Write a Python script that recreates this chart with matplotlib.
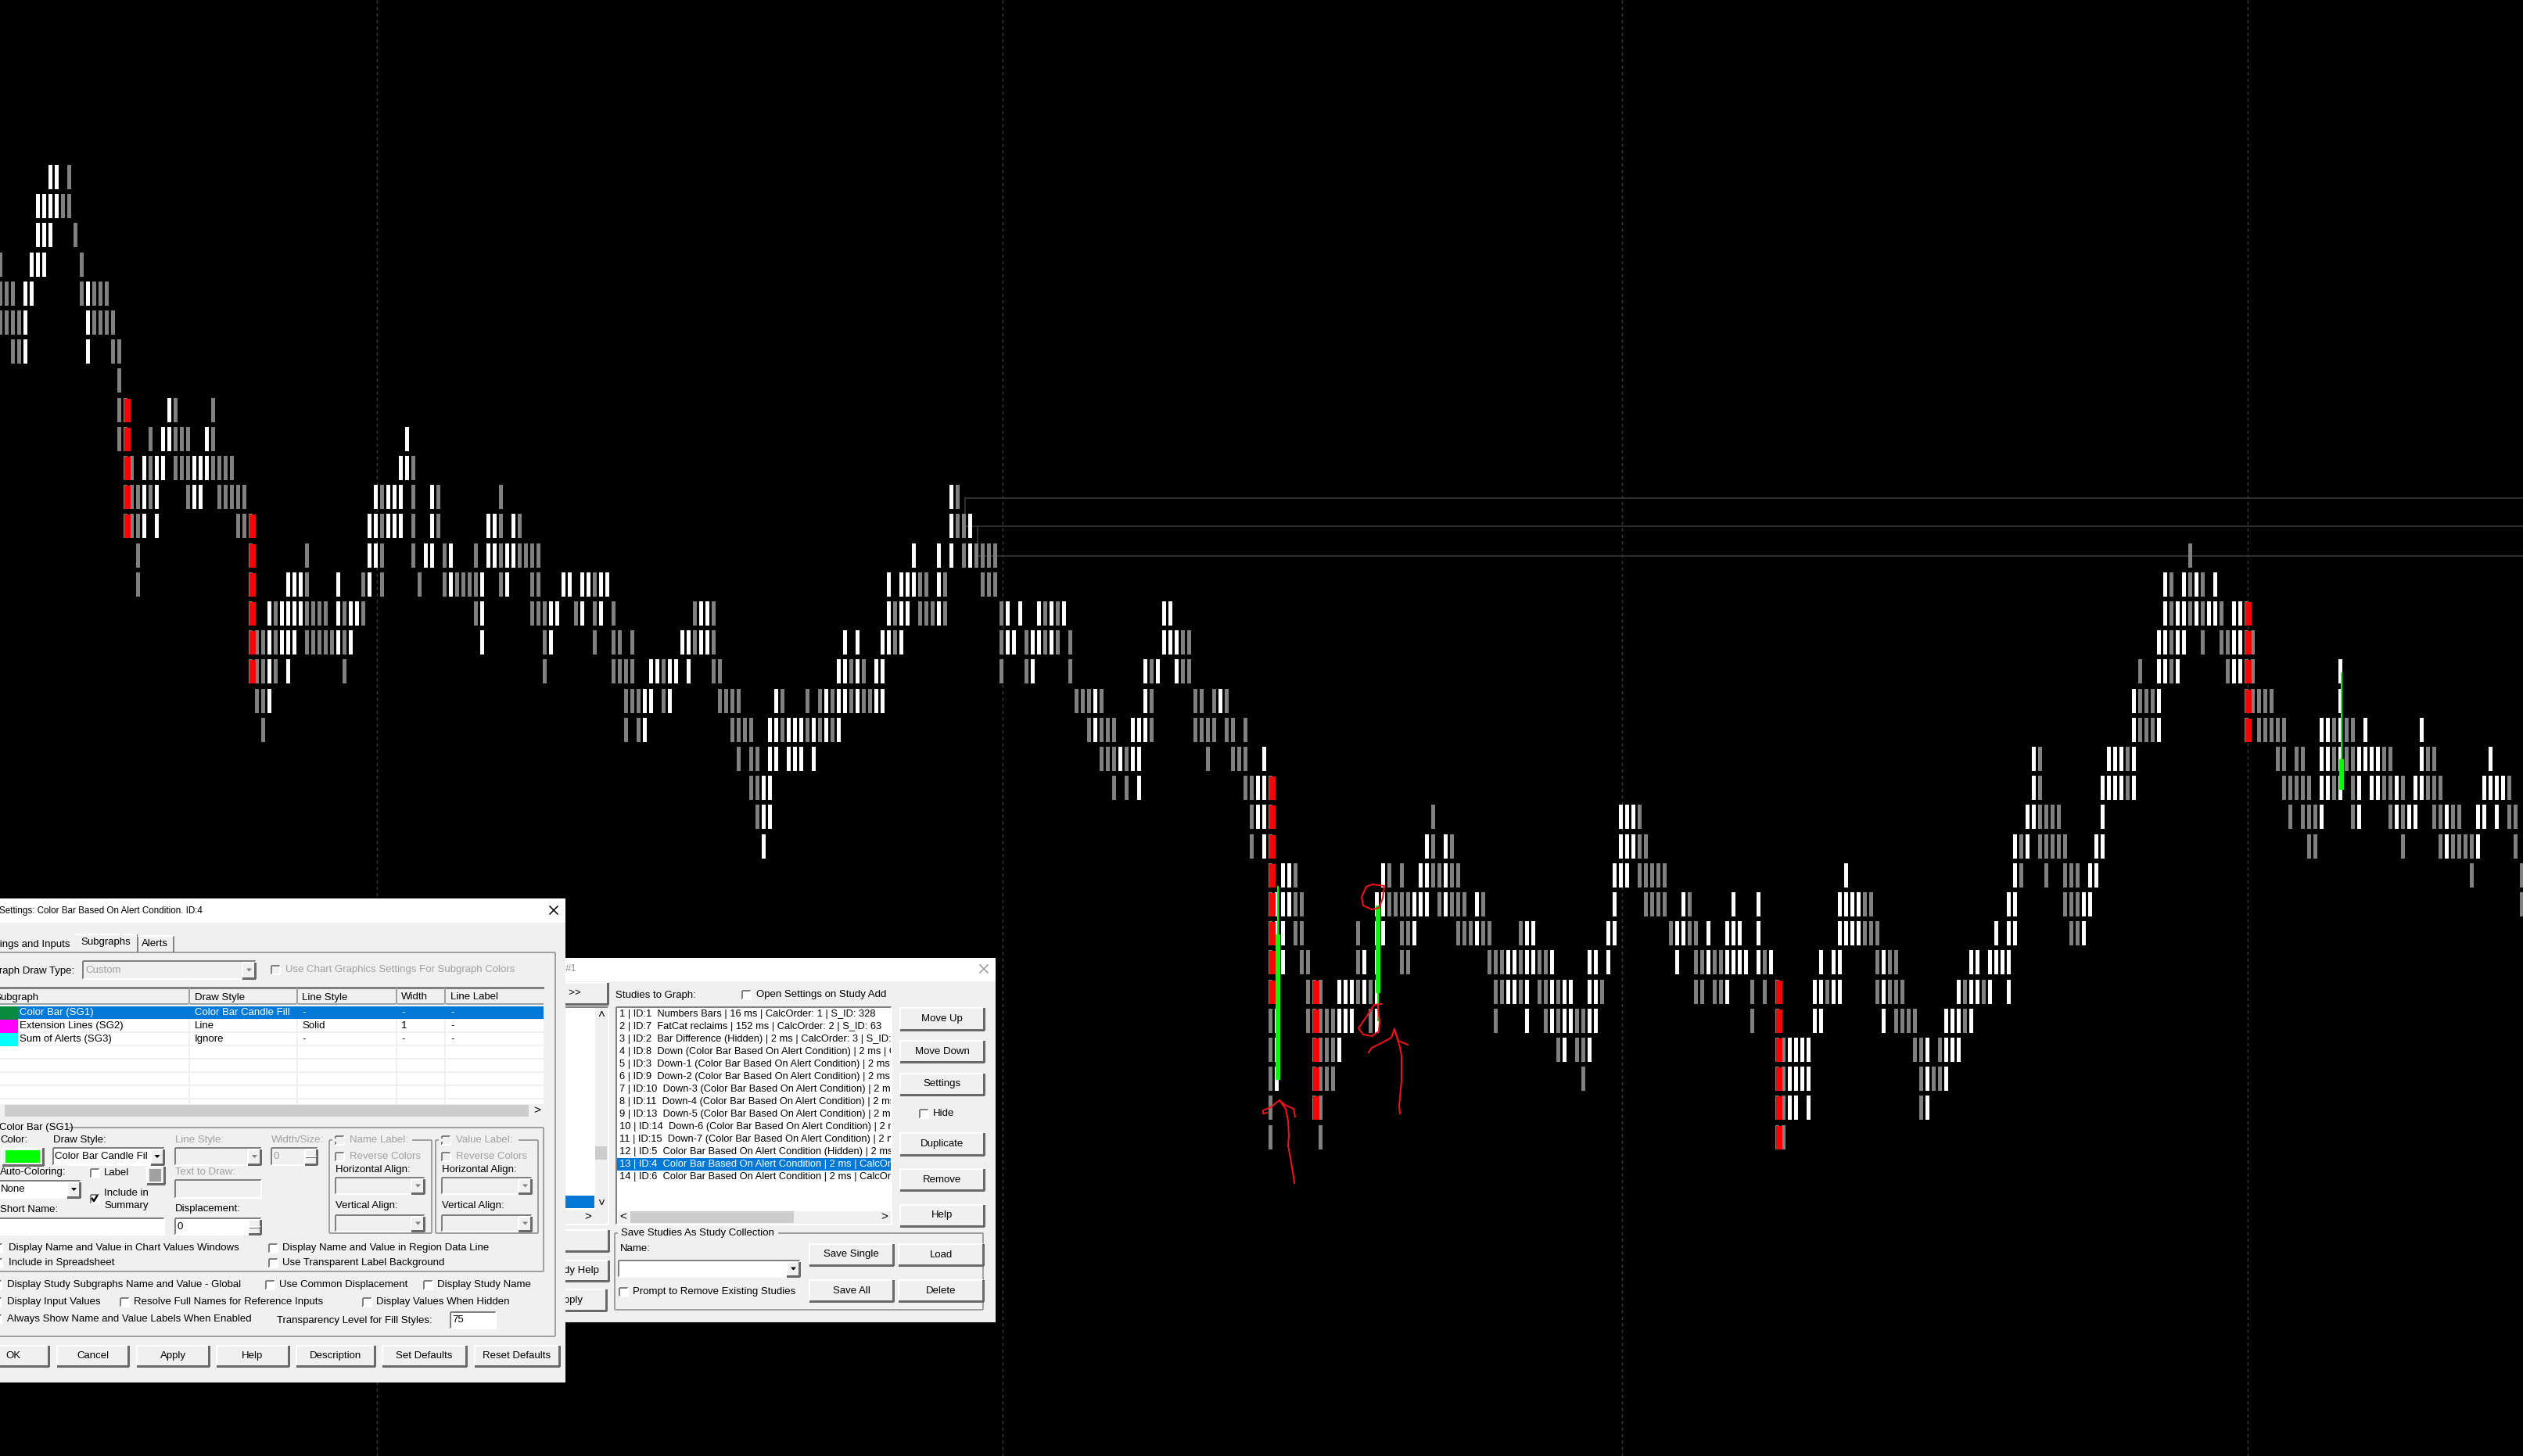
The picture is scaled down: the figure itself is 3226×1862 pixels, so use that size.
"""Recreates the numbers bars chart screenshot with its two study dialogs."""

import matplotlib
matplotlib.use("Agg")
import matplotlib.pyplot as plt
from matplotlib.patches import Rectangle

plt.rcParams["font.family"] = ["Liberation Sans", "DejaVu Sans"]

# Cells of the chart per price row (top to bottom), as bar column numbers
WHITE_CELLS = [
    [8, 9],
    [6, 7, 8, 9],
    [6, 7, 8],
    [5, 6, 7],
    [4, 5, 14],
    [4, 14],
    [4, 14],
    [],
    [27],
    [26, 27, 33, 65],
    [23, 25, 26, 31, 32, 33, 64, 65],
    [23, 25, 31, 32, 60, 62, 63, 64, 69, 152],
    [23, 25, 59, 60, 62, 63, 64, 69, 78, 79, 82, 152, 155],
    [59, 60, 68, 69, 72, 78, 79, 81, 82, 146, 150, 152, 155],
    [46, 47, 48, 54, 59, 72, 77, 81, 90, 91, 93, 94, 96, 97, 142, 144, 145, 146, 150, 346, 349, 351, 354],
    [43, 45, 46, 47, 48, 54, 56, 57, 77, 88, 89, 93, 96, 112, 113, 142, 144, 145, 150, 161, 163, 166, 168, 170,
     186, 187, 346, 348, 349, 351, 353, 354, 357, 358],
    [43, 45, 46, 47, 54, 56, 77, 88, 109, 110, 112, 113, 135, 137, 141, 142, 144, 161, 162, 165, 166, 168,
     186, 187, 188, 345, 346, 348, 349, 357, 358],
    [43, 46, 104, 105, 107, 108, 110, 134, 135, 137, 140, 141, 165, 183, 185, 188, 345, 346, 348, 357, 358, 374],
    [43, 103, 104, 107, 124, 132, 134, 135, 137, 140, 141, 175, 183, 195, 341, 345, 374],
    [103, 123, 124, 126, 127, 128, 130, 132, 134, 175, 181, 182, 183, 341, 345, 371, 372, 374, 378, 387],
    [123, 124, 126, 127, 128, 130, 179, 181, 182, 202, 325, 337, 338, 339, 341, 371, 372, 374, 377, 378, 379, 380,
     387, 398],
    [122, 123, 182, 201, 202, 325, 336, 337, 338, 339, 341, 371, 372, 374, 377, 379, 380, 383, 386, 387,
     397, 398, 399, 400],
    [122, 123, 201, 202, 259, 260, 261, 324, 325, 336, 371, 377, 383, 385, 386, 391, 396, 397, 399],
    [122, 202, 228, 231, 259, 260, 261, 322, 324, 335, 336, 391, 396],
    [205, 206, 221, 227, 228, 231, 258, 259, 260, 295, 322, 334, 335],
    [204, 205, 206, 220, 221, 226, 227, 228, 231, 236, 258, 269, 277, 281, 294, 295, 296, 297, 321, 322, 333, 334],
    [204, 205, 220, 221, 226, 236, 244, 245, 257, 258, 268, 269, 273, 276, 277, 278, 281, 294, 295, 296, 297,
     319, 321, 322, 333],
    [205, 218, 220, 241, 242, 244, 245, 248, 254, 255, 257, 268, 273, 276, 277, 278, 279, 281, 283, 291, 293, 294,
     301, 315, 316, 318, 319, 320, 321],
    [214, 215, 216, 218, 220, 241, 242, 244, 248, 250, 251, 254, 255, 276, 290, 291, 293, 294, 301, 313, 315, 316,
     318, 321],
    [204, 214, 215, 216, 220, 244, 248, 250, 251, 254, 255, 290, 291, 301, 311, 312, 313, 315],
    [204, 214, 250, 254, 286, 287, 288, 289, 308, 311, 312, 313],
    [204, 286, 287, 288, 289, 308, 311],
    [286, 287, 289, 308],
    [],
]
GREY_CELLS = [
    [11],
    [10, 11],
    [12],
    [0, 13],
    [0, 1, 2, 13, 15, 16, 17],
    [0, 1, 2, 3, 15, 16, 17, 18],
    [2, 3, 18, 19],
    [19],
    [19, 20, 28, 34],
    [19, 20, 24, 28, 29, 30, 34],
    [20, 21, 24, 28, 29, 30, 34, 35, 36, 37, 66],
    [20, 21, 22, 24, 30, 35, 36, 37, 38, 39, 61, 66, 70, 80, 153],
    [20, 21, 22, 38, 39, 40, 61, 66, 70, 80, 83, 153, 154],
    [22, 40, 49, 61, 66, 71, 76, 80, 83, 84, 85, 86, 154, 156, 157, 158, 159, 350],
    [22, 40, 49, 58, 61, 67, 71, 73, 74, 75, 76, 80, 85, 86, 95, 147, 148, 151, 157, 158, 159, 347, 350, 352],
    [40, 44, 49, 50, 51, 52, 55, 58, 76, 85, 86, 87, 92, 95, 98, 111, 114, 143, 147, 148, 149, 151, 160, 167, 169,
     347, 350, 352, 355, 359],
    [40, 41, 42, 44, 49, 50, 51, 52, 53, 55, 87, 95, 98, 99, 101, 111, 114, 143, 160, 164, 167, 169, 171, 189, 190,
     347, 352, 355, 356, 359, 360],
    [40, 41, 42, 44, 55, 87, 98, 99, 100, 101, 106, 114, 115, 136, 138, 160, 164, 171, 184, 189, 190, 342, 347, 356,
     359, 360],
    [41, 42, 100, 101, 102, 106, 115, 116, 117, 118, 125, 129, 131, 133, 136, 138, 139, 172, 173, 174, 176, 184,
     191, 192, 194, 196, 342, 343, 344, 359, 360, 361, 362, 363],
    [42, 100, 102, 117, 118, 119, 120, 125, 129, 131, 133, 174, 176, 177, 178, 184, 191, 192, 193, 194, 196, 197, 199,
     342, 343, 344, 359, 361, 362, 363, 364, 365, 373, 375, 376],
    [118, 120, 121, 176, 177, 178, 180, 193, 197, 198, 199, 326, 340, 364, 365, 367, 368, 373, 375, 376, 381, 382,
     388, 389],
    [120, 121, 178, 180, 199, 200, 203, 326, 340, 365, 366, 367, 368, 369, 373, 376, 381, 382, 384, 388, 389, 390, 401],
    [121, 200, 203, 229, 262, 326, 327, 328, 329, 366, 368, 369, 370, 376, 382, 384, 389, 390, 392, 393, 401, 402],
    [200, 203, 229, 232, 262, 263, 323, 326, 327, 328, 329, 330, 369, 370, 384, 390, 392, 393, 394, 395, 402],
    [203, 207, 222, 224, 229, 230, 232, 233, 262, 263, 264, 265, 266, 323, 327, 330, 331, 332, 395, 403],
    [203, 207, 208, 222, 223, 224, 225, 230, 232, 233, 234, 237, 263, 264, 265, 266, 270, 298, 299, 330, 331, 332, 403],
    [203, 207, 208, 217, 224, 225, 233, 234, 235, 237, 238, 243, 267, 270, 271, 298, 299, 300, 331, 332],
    [203, 208, 209, 217, 224, 225, 238, 239, 240, 243, 246, 247, 271, 272, 274, 275, 282, 300, 302, 303],
    [203, 209, 210, 211, 217, 219, 239, 240, 243, 246, 247, 249, 256, 271, 272, 274, 275, 280, 282, 284, 292, 300,
     302, 303, 304, 314, 317],
    [203, 209, 210, 211, 212, 213, 219, 239, 247, 249, 252, 253, 280, 284, 303, 304, 305, 306, 314],
    [203, 210, 211, 212, 213, 249, 252, 253, 284, 285, 306, 307, 310],
    [203, 210, 211, 212, 213, 253, 284, 285, 307, 309, 310],
    [203, 210, 211, 284, 285, 307],
    [203, 211, 284, 285],
]

# Runs of red cells: column, first row, last row
RED_COLS = [20, 40, 203, 210, 284, 359]
RED_FIRST_ROW = [8, 12, 21, 28, 28, 15]
RED_LAST_ROW = [12, 17, 28, 32, 33, 19]

# Green candles, in pixels of the screenshot
GREEN_X = [1634, 1762, 2994]
GREEN_WICK_TOP = [1133, 1158, 860]
GREEN_WICK_BOTTOM = [1381, 1306, 1010]
GREEN_BODY_TOP = [1195, 1158, 971]
GREEN_BODY_BOTTOM = [1381, 1270, 1010]

DASHED_X = [482, 1282, 2074, 2874]

# Thin level lines (x start, y) with their small connecting verticals
LEVEL_X = [1234, 1234, 1250]
LEVEL_Y = [637, 673, 711]

# Hand drawn red marks
ARROW1_X = [1655, 1654, 1650, 1647, 1648, 1647, 1644, 1636, 1632, 1625, 1615, 1615, 1620]
ARROW1_Y = [1513, 1505, 1481, 1465, 1453, 1434, 1418, 1407, 1410, 1416, 1420, 1424, 1423]
ARROW1_HEAD_X = [1636, 1643, 1654, 1656]
ARROW1_HEAD_Y = [1407, 1413, 1418, 1428]
CIRCLE1_X = [1755, 1747, 1741, 1743, 1754, 1763, 1768, 1770, 1763, 1755]
CIRCLE1_Y = [1131, 1134, 1147, 1158, 1163, 1161, 1149, 1133, 1132, 1131]
CIRCLE2_X = [1766, 1757, 1748, 1737, 1743, 1754, 1763, 1764, 1762]
CIRCLE2_Y = [1284, 1285, 1299, 1315, 1323, 1325, 1319, 1307, 1287]
ARROW2_X = [1790, 1789, 1792, 1792, 1790, 1783, 1779, 1768, 1754, 1750]
ARROW2_Y = [1424, 1414, 1382, 1351, 1339, 1316, 1327, 1333, 1340, 1346]
ARROW2_HEAD_X = [1783, 1788, 1800]
ARROW2_HEAD_Y = [1316, 1331, 1336]

STUDIES = [
    "1 | ID:1  Numbers Bars | 16 ms | CalcOrder: 1 | S_ID: 328",
    "2 | ID:7  FatCat reclaims | 152 ms | CalcOrder: 2 | S_ID: 63",
    "3 | ID:2  Bar Difference (Hidden) | 2 ms | CalcOrder: 3 | S_ID: 71",
    "4 | ID:8  Down (Color Bar Based On Alert Condition) | 2 ms | CalcOrder: 4",
    "5 | ID:3  Down-1 (Color Bar Based On Alert Condition) | 2 ms | CalcOrder: 5",
    "6 | ID:9  Down-2 (Color Bar Based On Alert Condition) | 2 ms | CalcOrder: 6",
    "7 | ID:10  Down-3 (Color Bar Based On Alert Condition) | 2 ms | CalcOrder: 7",
    "8 | ID:11  Down-4 (Color Bar Based On Alert Condition) | 2 ms | CalcOrder: 8",
    "9 | ID:13  Down-5 (Color Bar Based On Alert Condition) | 2 ms | CalcOrder: 9",
    "10 | ID:14  Down-6 (Color Bar Based On Alert Condition) | 2 ms | CalcOrder: 10",
    "11 | ID:15  Down-7 (Color Bar Based On Alert Condition) | 2 ms | CalcOrder: 11",
    "12 | ID:5  Color Bar Based On Alert Condition (Hidden) | 2 ms | CalcOrder: 12",
    "13 | ID:4  Color Bar Based On Alert Condition | 2 ms | CalcOrder: 13",
    "14 | ID:6  Color Bar Based On Alert Condition | 2 ms | CalcOrder: 14",
]
SUBGRAPH_COLORS = ["#0a8a3c", "#ff00ff", "#00ffff"]
SUBGRAPH_ROWS = [
    ["Color Bar (SG1)", "Color Bar Candle Fill", "-", "-", "-"],
    ["Extension Lines (SG2)", "Line", "Solid", "1", "-"],
    ["Sum of Alerts (SG3)", "Ignore", "-", "-", "-"],
]
TABLE_HEADERS = ["Subgraph", "Draw Style", "Line Style", "Width", "Line Label"]
TABLE_COLS = [-8, 249, 386, 513, 576]
TABLE_LINES = [242, 380, 507, 569]

ROW_TOP = 211
ROW_STEP = 37.2
ROW_H = 31
BAR_W = 5
FACE = "#f0f0f0"
BLUE = "#0078d7"
GREYED = "#a0a0a0"
FONT = 9.55

fig = plt.figure(figsize=(32.26, 18.62), dpi=100, facecolor="black")
ax = fig.add_axes([0, 0, 1, 1])
ax.set_xlim(0, 3226)
ax.set_ylim(1862, 0)
ax.set_facecolor("black")
ax.axis("off")

layer = 10


def col_x(col):
    return 8 * col - 2


def row_y(row):
    return ROW_TOP + ROW_STEP * row


def box(x0, y0, x1, y1, face=FACE, edge=None, lw=1.0, lift=0.0):
    ax.add_patch(Rectangle((x0, y0), x1 - x0, y1 - y0, facecolor=face, edgecolor=edge or "none",
                           linewidth=lw, antialiased=False, zorder=layer + lift))


def hv(x0, y0, x1, y1, color="#a0a0a0", lw=1.4):
    ax.plot([x0, x1], [y0, y1], color=color, lw=lw, zorder=layer + 0.1, solid_capstyle="butt", antialiased=False)


def label(x, y, s, color="black", ha="left", size=FONT, clip=None):
    t = ax.text(x, y, s, color=color, ha=ha, va="center", fontsize=size, zorder=layer + 0.3)
    if clip is not None:
        t.set_clip_path(Rectangle((clip[0], clip[1]), clip[2] - clip[0], clip[3] - clip[1], transform=ax.transData))
        t.set_clip_on(True)
    return t


def button(x0, y0, x1, y1, text=None, tx=None):
    box(x0, y0, x1, y1, "#f0f0f0")
    hv(x0, y0, x1, y0, "white")
    hv(x0, y0, x0, y1, "white")
    hv(x0, y1, x1, y1, "#696969", 2)
    hv(x1, y0, x1, y1, "#696969", 2)
    if text:
        label(tx if tx is not None else (x0 + x1) / 2, (y0 + y1) / 2, text, ha="center")


def sunken(x0, y0, x1, y1, face="white"):
    box(x0, y0, x1, y1, face)
    hv(x0, y0, x1, y0, "#808080")
    hv(x0, y0, x0, y1, "#808080")
    hv(x0, y1, x1, y1, "white")
    hv(x1, y0, x1, y1, "white")


def checkbox(x, y, checked=False, disabled=False):
    sunken(x, y - 5.5, x + 11, y + 5.5, FACE if disabled else "white")
    if checked:
        ax.plot([x + 2.5, x + 4.5, x + 8.5], [y, y + 3, y - 3.5], color="black", lw=1.8, zorder=layer + 0.2)


def arrow_down(cx, cy, color="black"):
    ax.fill([cx - 3.5, cx + 3.5, cx], [cy - 2, cy - 2, cy + 2], color=color, zorder=layer + 0.2, lw=0)


def combo(x0, y0, x1, y1, text=None, disabled=False, btn_w=17):
    sunken(x0, y0, x1, y1, FACE if disabled else "white")
    button(x1 - btn_w, y0 + 2, x1 - 1, y1 - 1)
    arrow_down(x1 - btn_w / 2, (y0 + y1) / 2, "#808080" if disabled else "black")
    if text:
        label(x0 + 3, (y0 + y1) / 2, text, color=GREYED if disabled else "black")


def spinner(x0, y0, x1, y1, text, disabled=False):
    sunken(x0, y0, x1, y1, FACE if disabled else "white")
    mid = (y0 + y1) / 2
    button(x1 - 16, y0 + 2, x1 - 1, mid)
    button(x1 - 16, mid, x1 - 1, y1 - 1)
    label(x0 + 3, mid, text, color=GREYED if disabled else "black")


def close_x(cx, cy, color="black"):
    for sign in (-1, 1):
        ax.plot([cx - 5, cx + 5], [cy - 5 * sign, cy + 5 * sign], color=color, lw=1.1, zorder=layer + 0.2)


def group(x0, y0, x1, y1, gap0=None, gap1=None):
    hv(x0, y1, x1, y1)
    hv(x0, y0, x0, y1)
    hv(x1, y0, x1, y1)
    hv(x0, y0, x1, y0)
    if gap0 is not None:
        box(gap0, y0 - 2, gap1, y0 + 2, lift=0.2)


# Chart background
for x in DASHED_X:
    ax.plot([x, x], [0, 1862], color="#3a3a3a", lw=1.0, ls=(0, (3, 3)), zorder=1)
for x, y in zip(LEVEL_X, LEVEL_Y):
    ax.plot([x, 3226], [y, y], color="#3c3c3c", lw=1.1, zorder=1)
ax.plot([LEVEL_X[0], LEVEL_X[0]], [LEVEL_Y[0], LEVEL_Y[1]], color="#3c3c3c", lw=1.1, zorder=1)
ax.plot([LEVEL_X[2], LEVEL_X[2]], [LEVEL_Y[1], LEVEL_Y[2]], color="#3c3c3c", lw=1.1, zorder=1)

# Number bars
for row in range(len(WHITE_CELLS)):
    ax.bar([col_x(c) for c in GREY_CELLS[row]], ROW_H, width=BAR_W, bottom=row_y(row), align="edge",
           color="#808080", antialiased=False, zorder=2)
    ax.bar([col_x(c) for c in WHITE_CELLS[row]], ROW_H, width=BAR_W, bottom=row_y(row), align="edge",
           color="white", antialiased=False, zorder=2)
for col, first, last in zip(RED_COLS, RED_FIRST_ROW, RED_LAST_ROW):
    rows = range(first, last + 1)
    ax.bar([col_x(col) + 0.5] * len(rows), ROW_H - 1, width=8.5, bottom=[row_y(r) + 1 for r in rows], align="edge",
           color="#ff0000", antialiased=False, zorder=3)

# Green candles
for i in range(len(GREEN_X)):
    ax.bar(GREEN_X[i], GREEN_WICK_BOTTOM[i] - GREEN_WICK_TOP[i], width=2, bottom=GREEN_WICK_TOP[i],
           color="#00ff00", antialiased=False, zorder=4)
    ax.bar(GREEN_X[i], GREEN_BODY_BOTTOM[i] - GREEN_BODY_TOP[i], width=6.5, bottom=GREEN_BODY_TOP[i],
           color="#00ff00", antialiased=False, zorder=4)

# Hand drawn marks
for xs, ys in [(ARROW1_X, ARROW1_Y), (ARROW1_HEAD_X, ARROW1_HEAD_Y), (CIRCLE1_X, CIRCLE1_Y), (CIRCLE2_X, CIRCLE2_Y),
               (ARROW2_X, ARROW2_Y), (ARROW2_HEAD_X, ARROW2_HEAD_Y)]:
    ax.plot(xs, ys, color="#e8141c", lw=1.5, zorder=5)

# Studies dialog (behind the settings dialog)
layer = 10
box(723, 1225, 1273, 1691)
box(723, 1225, 1273, 1255, "white")
label(723, 1239, "#1", color="#999999")
close_x(1258, 1239, "#999999")
button(700, 1257, 777, 1284)
label(743, 1270, "Add >>", ha="right")
sunken(700, 1288, 778, 1566, FACE)
box(700, 1288, 761, 1548, "white")
box(700, 1529, 760, 1545, BLUE)
box(761, 1466, 776, 1483, "#cdcdcd")
label(768.5, 1298, "\u02c4", ha="center", size=11)
label(768.5, 1539, "\u02c5", ha="center", size=11)
label(752, 1556, "\u02c3", ha="center", size=11)
button(700, 1573, 778, 1600)
button(700, 1612, 778, 1638)
label(766, 1625, "Study Help", ha="right")
button(700, 1649, 775, 1676)
label(746, 1663, "Apply", ha="right")

label(787, 1273, "Studies to Graph:")
checkbox(949, 1272)
label(967, 1272, "Open Settings on Study Add")
sunken(788, 1288, 1140, 1566)
box(789, 1481, 1139, 1497, BLUE)
for i, name in enumerate(STUDIES):
    label(791.5, 1297.3 + 16 * i, name, color="white" if i == 12 else "black", size=9.3, clip=(789, 1288, 1139, 1549))
box(790, 1549, 1139, 1565)
box(806, 1549, 1015, 1564, "#cdcdcd")
label(797, 1556, "\u02c2", ha="center", size=11)
label(1131, 1556, "\u02c3", ha="center", size=11)

button(1151, 1289, 1258, 1317, "Move Up")
button(1151, 1331, 1258, 1358, "Move Down")
button(1151, 1373, 1258, 1400, "Settings")
checkbox(1176, 1424)
label(1193, 1424, "Hide")
button(1151, 1449, 1258, 1477, "Duplicate")
button(1151, 1495, 1258, 1522, "Remove")
button(1151, 1541, 1258, 1568, "Help")

group(786, 1577, 1257, 1675, 790, 995)
label(794, 1577, "Save Studies As Study Collection")
label(793, 1597, "Name:")
combo(791, 1612, 1023, 1633)
button(1035, 1591, 1142, 1618, "Save Single")
button(1149, 1591, 1257, 1618, "Load")
button(1035, 1637, 1142, 1664, "Save All")
button(1149, 1637, 1257, 1664, "Delete")
checkbox(792, 1652)
label(809, 1652, "Prompt to Remove Existing Studies")

# Settings dialog
layer = 20
box(-2, 1149, 723, 1768)
box(-2, 1149, 723, 1180, "white")
label(-1, 1165, "Settings: Color Bar Based On Alert Condition. ID:4", size=8.4)
close_x(708, 1164)
group(-5, 1218, 710, 1709)
box(-2, 1197, 96, 1218)
box(96, 1195, 176, 1220)
hv(96, 1195, 176, 1195, "white")
hv(176, 1195, 176, 1218, "#808080")
hv(222, 1197, 222, 1218, "#808080")
hv(176, 1197, 222, 1197, "white")
label(90, 1208, "Settings and Inputs", ha="right")
label(103, 1205, "Subgraphs")
label(181, 1207, "Alerts")

label(95, 1242, "Subgraph Draw Type:", ha="right")
combo(106, 1229, 327, 1252, "Custom", disabled=True)
checkbox(347, 1240, disabled=True)
label(365, 1240, "Use Chart Graphics Settings For Subgraph Colors", color=GREYED)

# Subgraph table
box(-2, 1263, 695, 1412, "white")
box(-2, 1263, 695, 1284, FACE)
hv(-2, 1263, 695, 1263, "#808080", 2)
hv(-2, 1284, 695, 1284, "#a0a0a0")
for x in TABLE_LINES:
    hv(x, 1263, x, 1284, "#a0a0a0")
    hv(x, 1284, x, 1412, "#f0f0f0")
for i in range(1, 8):
    hv(-2, 1286 + 17 * i, 695, 1286 + 17 * i, "#f0f0f0")
for x, head in zip(TABLE_COLS, TABLE_HEADERS):
    label(x, 1275.5, head)
box(23, 1287, 695, 1303, BLUE, lift=0.2)
for i, values in enumerate(SUBGRAPH_ROWS):
    y = 1295 + 17 * i
    box(-2, y - 8, 23, y + 8.5, SUBGRAPH_COLORS[i], lift=0.2)
    label(25, y, values[0], color="white" if i == 0 else "black")
    for x, value in zip(TABLE_COLS[1:], values[1:]):
        label(x, y, value, color="white" if i == 0 else "black")
box(6, 1413, 676, 1428, "#cdcdcd")
label(687, 1420, "\u02c3", ha="center", size=11)

# Color bar group
group(-5, 1442, 695, 1626, 0, 88)
label(-1, 1442, "Color Bar (SG1)")
label(0, 1458, "Color:")
label(67.5, 1458, "Draw Style:")
button(3, 1468, 54.5, 1490)
box(7, 1471, 51, 1487, "#00ff00", lift=0.2)
combo(67.5, 1468, 209.5, 1490, "Color Bar Candle Fil")
label(223.5, 1458, "Line Style:", color=GREYED)
combo(223.5, 1468, 334, 1490, disabled=True)
label(347, 1458, "Width/Size:", color=GREYED)
spinner(347, 1468, 406, 1490, "0", disabled=True)

for gx0, gx1, cbx, tx, cx1, name in [(421, 552, 429, 447, 543, "Name Label:"), (557, 688, 565, 583, 680, "Value Label:")]:
    group(gx0, 1458, gx1, 1577, gx0 + 4, tx + 80)
    checkbox(cbx, 1458, disabled=True)
    label(tx, 1458, name, color=GREYED)
    checkbox(cbx, 1479, disabled=True)
    label(tx, 1479, "Reverse Colors", color=GREYED)
    label(cbx, 1496, "Horizontal Align:")
    combo(cbx, 1506, cx1, 1527, disabled=True)
    label(cbx, 1542, "Vertical Align:")
    combo(cbx, 1554, cx1, 1575, disabled=True)

label(0, 1499, "Auto-Coloring:")
combo(-2, 1510, 103, 1532, "None")
checkbox(115.5, 1500)
label(133, 1500, "Label")
button(187.5, 1492, 210, 1514)
box(191, 1495, 206, 1511, "#a0a0a0", lift=0.2)
label(223.5, 1499, "Text to Draw:", color=GREYED)
sunken(223.5, 1509, 334, 1532, FACE)
checkbox(115.5, 1533, checked=True)
label(133, 1526, "Include in")
label(133, 1542, "Summary")
label(0, 1547, "Short Name:")
sunken(-2, 1558, 209.5, 1579)
label(223.5, 1546, "Displacement:")
spinner(223.5, 1558, 334, 1579, "0")

checkbox(-8, 1596)
label(11, 1596, "Display Name and Value in Chart Values Windows")
checkbox(-8, 1615)
label(11, 1615, "Include in Spreadsheet")
checkbox(344, 1596)
label(361, 1596, "Display Name and Value in Region Data Line")
checkbox(344, 1615)
label(361, 1615, "Use Transparent Label Background")

checkbox(-9, 1643)
label(9, 1643, "Display Study Subgraphs Name and Value - Global")
checkbox(340, 1643)
label(357, 1643, "Use Common Displacement")
checkbox(542, 1643)
label(559, 1643, "Display Study Name")
checkbox(-9, 1665)
label(9, 1665, "Display Input Values")
checkbox(154, 1665)
label(171, 1665, "Resolve Full Names for Reference Inputs")
checkbox(464, 1665)
label(481, 1665, "Display Values When Hidden")
checkbox(-9, 1687)
label(9, 1687, "Always Show Name and Value Labels When Enabled")
label(354, 1689, "Transparency Level for Fill Styles:")
sunken(575.5, 1678, 634, 1699)
label(578, 1688, "75")

button(-2, 1721, 62, 1747, "OK", tx=17)
button(73, 1721, 164, 1747, "Cancel")
button(175, 1721, 267, 1747, "Apply")
button(277, 1721, 369, 1747, "Help")
button(379, 1721, 479, 1747, "Description")
button(489, 1721, 596, 1747, "Set Defaults")
button(607, 1721, 715, 1747, "Reset Defaults")

fig.savefig("out.png", dpi=100, facecolor="black")
